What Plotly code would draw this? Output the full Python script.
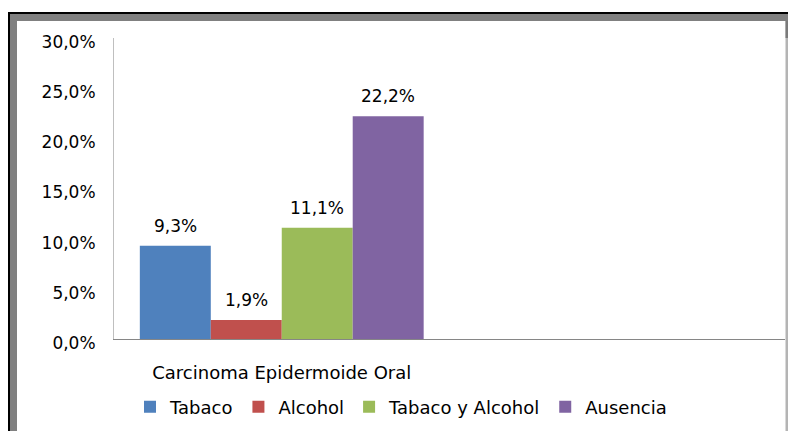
import plotly.graph_objects as go

# Data
categories = ["Carcinoma Epidermoide Oral", " "]
series_names = ["Tabaco", "Alcohol", "Tabaco y Alcohol", "Ausencia"]
series_values = [0.093, 0.019, 0.111, 0.222]
series_colors = ["#4F81BD", "#C0504D", "#9BBB59", "#8064A2"]
y_ticks = [0.0, 0.05, 0.10, 0.15, 0.20, 0.25, 0.30]

W, H = 788, 431
M = dict(l=114, r=3, t=38, b=92)
PW = W - M["l"] - M["r"]
PH = H - M["t"] - M["b"]
BARGAP = 0.154
FONT = "DejaVu Sans"


def px_x(px):
    return (px - M["l"]) / PW


def px_y(py):
    return (H - M["b"] - py) / PH


fig = go.Figure()
for name, val, col in zip(series_names, series_values, series_colors):
    fig.add_trace(go.Bar(
        name=name,
        x=[categories[0]],
        y=[val],
        marker=dict(color=col, line=dict(width=0)),
    ))

# value labels above each bar
group_w = 1 - BARGAP
n = len(series_values)
annotations = []
for i, val in enumerate(series_values):
    xc = -group_w / 2 + (i + 0.5) * group_w / n
    annotations.append(dict(
        x=xc, y=val, xref="x", yref="y",
        text=f"{val * 100:.1f}%".replace(".", ","),
        showarrow=False, yanchor="bottom", yshift=8,
        font=dict(family=FONT, size=17, color="#000000"),
    ))

# window frame around the chart
shapes = [
    dict(type="rect", xref="paper", yref="paper",
         x0=px_x(8), x1=px_x(W), y0=px_y(12), y1=px_y(14),
         fillcolor="#000000", line=dict(width=0), layer="above"),
    dict(type="rect", xref="paper", yref="paper",
         x0=px_x(8), x1=px_x(10), y0=px_y(12), y1=px_y(H),
         fillcolor="#000000", line=dict(width=0), layer="above"),
    dict(type="rect", xref="paper", yref="paper",
         x0=px_x(10), x1=px_x(W), y0=px_y(14), y1=px_y(21),
         fillcolor="#808080", line=dict(width=0), layer="above"),
    dict(type="rect", xref="paper", yref="paper",
         x0=px_x(10), x1=px_x(17), y0=px_y(14), y1=px_y(H),
         fillcolor="#808080", line=dict(width=0), layer="above"),
    dict(type="rect", xref="paper", yref="paper",
         x0=px_x(785.5), x1=px_x(W), y0=px_y(21), y1=px_y(H),
         fillcolor="#B4B4B4", line=dict(width=0), layer="above"),
    dict(type="rect", xref="paper", yref="paper",
         x0=px_x(785.5), x1=px_x(W), y0=px_y(21), y1=px_y(38),
         fillcolor="#7A7A7A", line=dict(width=0), layer="above"),
]

fig.update_layout(
    width=W, height=H,
    margin=M,
    paper_bgcolor="white",
    plot_bgcolor="white",
    separators=",.",
    barmode="group",
    bargap=BARGAP,
    bargroupgap=0,
    font=dict(family=FONT, size=16, color="#000000"),
    xaxis=dict(
        type="category",
        categoryorder="array",
        categoryarray=categories,
        range=[-0.5, 1.5],
        tickvals=[categories[0]],
        showline=True, linecolor="#868686", linewidth=1,
        showgrid=False, ticks="",
        ticklabelstandoff=17,
        tickfont=dict(family=FONT, size=18, color="#000000"),
        fixedrange=True,
    ),
    yaxis=dict(
        range=[0, 0.30],
        tickvals=y_ticks,
        tickformat=".1%",
        showline=True, linecolor="#BFBFBF", linewidth=1,
        showgrid=False, zeroline=False, ticks="",
        ticklabelstandoff=14,
        ticklabelshift=4,
        tickfont=dict(family=FONT, size=17, color="#000000"),
        fixedrange=True,
    ),
    showlegend=True,
    legend=dict(
        orientation="h",
        xref="paper", yref="paper",
        x=px_x(130), y=px_y(407),
        xanchor="left", yanchor="middle",
        font=dict(family=FONT, size=18, color="#000000"),
        itemclick=False, itemdoubleclick=False,
    ),
    annotations=annotations,
    shapes=shapes,
)

fig.write_html("out.html")
